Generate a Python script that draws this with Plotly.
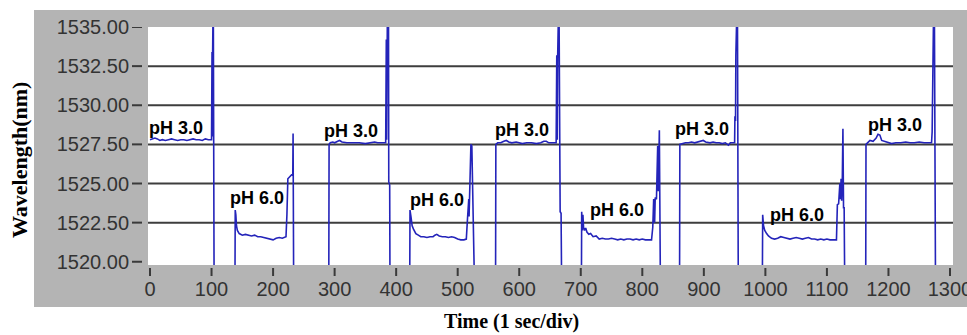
import plotly.graph_objects as go

# ---------------- data ----------------
time = [
    0, 4, 8, 12, 16, 20, 25, 30, 35, 40, 45, 50, 55, 60, 65, 70, 75, 80, 85, 90, 95, 100,
    100.8, 101.3, 101.8, 102.8, 104.2,
    138, 138.5, 139.5, 140.5, 142, 145, 150, 155, 160, 165, 170, 175, 180, 185, 190, 195,
    200, 205, 210, 215, 221, 222.5, 224, 231, 231.5, 232, 232.5, 233.5,
    290.5, 291, 293, 297, 300, 305, 308, 312, 320, 330, 340, 350, 360, 365, 370, 378, 383,
    384, 384.5, 385, 386, 387.5, 388, 389.5, 390,
    422, 422.5, 424, 426, 428, 432, 436, 440, 445, 450, 455, 460, 463, 466, 470, 475, 480,
    485, 490, 495, 500, 505, 510, 514, 516, 518, 518.5, 519.5, 521.5, 523, 525.5, 527.5,
    561.5, 562, 565, 570, 575, 579, 583, 588, 595, 600, 605, 612, 620, 628, 635, 640, 644,
    648, 655, 660, 661, 661.8, 662.5, 664.5, 666.5, 668, 669,
    701, 701.5, 702.5, 703.5, 704.5, 706, 708, 710, 713, 716, 720, 725, 730, 735, 740, 745,
    750, 755, 760, 765, 770, 775, 780, 785, 790, 795, 800, 805, 810, 815, 817, 818.5, 820,
    821, 823, 825, 826, 827, 827.7, 829.5,
    860.5, 861, 865, 870, 875, 880, 885, 890, 895, 899, 903, 910, 915, 920, 925, 930, 935,
    940, 943, 948, 950, 950.5, 951, 951.5, 952, 954.5, 956,
    995, 995.6, 997, 999, 1002, 1005, 1010, 1015, 1020, 1025, 1030, 1035, 1040, 1045, 1050,
    1055, 1060, 1065, 1070, 1075, 1080, 1085, 1090, 1095, 1100, 1105, 1110, 1115.5, 1117,
    1119, 1121, 1122, 1123, 1124, 1125, 1126, 1127, 1128, 1129,
    1163, 1163.5, 1166, 1170, 1175, 1180, 1183, 1186, 1189, 1193, 1198, 1205, 1212, 1220,
    1228, 1235, 1242, 1250, 1258, 1265, 1270, 1271, 1272, 1273, 1274.5, 1276.5,
]
wavelength = [
    1527.8, 1527.85, 1527.9, 1527.85, 1527.75, 1527.8, 1527.75, 1527.8, 1527.85, 1527.8,
    1527.75, 1527.8, 1527.8, 1527.75, 1527.8, 1527.85, 1527.8, 1527.8, 1527.75, 1527.85,
    1527.8, 1527.8,
    1533.4, 1528.0, 1533.4, 1537.5, 1518.0,
    1518.0, 1523.3, 1523.0, 1522.3, 1522.0, 1521.8, 1521.7, 1521.75, 1521.7, 1521.65,
    1521.7, 1521.6, 1521.6, 1521.55, 1521.5, 1521.45,
    1521.4, 1521.5, 1521.55, 1521.5, 1521.6, 1523.0, 1525.3, 1525.6, 1527.5, 1525.5, 1528.2, 1518.0,
    1518.0, 1527.5, 1527.6, 1527.65, 1527.6, 1527.7, 1527.75, 1527.65, 1527.6, 1527.6,
    1527.6, 1527.55, 1527.6, 1527.65, 1527.6, 1527.6, 1527.6,
    1534.2, 1527.8, 1534.2, 1537.5, 1537.5, 1525.1, 1524.9, 1518.0,
    1518.0, 1523.3, 1522.9, 1522.3, 1522.1, 1521.8, 1521.7, 1521.6, 1521.6, 1521.55, 1521.6,
    1521.6, 1521.7, 1521.75, 1521.65, 1521.6, 1521.6,
    1521.55, 1521.6, 1521.55, 1521.45, 1521.4, 1521.4, 1521.45, 1522.8, 1524.0, 1522.9,
    1524.0, 1527.5, 1527.4, 1520.9, 1518.0,
    1518.0, 1527.5, 1527.6, 1527.6, 1527.7, 1527.75, 1527.65, 1527.6, 1527.65, 1527.6,
    1527.55, 1527.6, 1527.6, 1527.55, 1527.6, 1527.7, 1527.7,
    1527.6, 1527.6, 1527.6, 1533.2, 1527.8, 1533.2, 1537.5, 1523.2, 1523.1, 1518.0,
    1518.0, 1523.2, 1522.0, 1523.0, 1522.2, 1522.0, 1522.15, 1521.9, 1521.75, 1521.8,
    1521.6, 1521.65, 1521.45, 1521.5, 1521.45, 1521.45,
    1521.5, 1521.45, 1521.4, 1521.45, 1521.4, 1521.45, 1521.45, 1521.4, 1521.45, 1521.4,
    1521.45, 1521.4, 1521.4, 1521.4, 1522.2, 1524.0, 1522.5,
    1524.1, 1524.0, 1527.4, 1524.5, 1527.5, 1528.4, 1518.0,
    1518.0, 1527.5, 1527.55, 1527.6, 1527.6, 1527.65, 1527.6, 1527.65, 1527.7, 1527.75,
    1527.65, 1527.6, 1527.65, 1527.6, 1527.6, 1527.55, 1527.6,
    1527.45, 1527.6, 1527.6, 1527.6, 1529.3, 1533.2, 1529.0, 1533.2, 1537.5, 1518.0,
    1518.0, 1523.0, 1522.3, 1522.0, 1521.8, 1521.65, 1521.5, 1521.45, 1521.5, 1521.6,
    1521.55, 1521.5, 1521.45, 1521.5, 1521.55,
    1521.5, 1521.45, 1521.5, 1521.55, 1521.45, 1521.45, 1521.4, 1521.45, 1521.4, 1521.45,
    1521.4, 1521.4, 1521.4, 1523.65,
    1523.7, 1525.0, 1524.0, 1525.3, 1523.9, 1525.3, 1528.5, 1523.4, 1523.5, 1518.0,
    1518.0, 1527.5, 1527.6, 1527.75, 1527.7, 1527.9, 1528.15, 1528.1, 1527.75, 1527.7,
    1527.6, 1527.55, 1527.6, 1527.6,
    1527.65, 1527.6, 1527.6, 1527.65, 1527.6, 1527.6, 1527.6, 1528.3, 1534.8, 1534.9, 1537.5, 1518.0,
]

label_texts = ["pH 3.0", "pH 6.0", "pH 3.0", "pH 6.0", "pH 3.0",
               "pH 6.0", "pH 3.0", "pH 6.0", "pH 3.0"]
label_x = [43, 174, 326, 467, 604, 759, 897, 1051, 1210]
label_y = [1528.56, 1524.06, 1528.37, 1523.96, 1528.43, 1523.28, 1528.47, 1523.0, 1528.72]

y_ticks = [1520.0, 1522.5, 1525.0, 1527.5, 1530.0, 1532.5, 1535.0]
y_tick_text = ["1520.00", "1522.50", "1525.00", "1527.50", "1530.00", "1532.50", "1535.00"]
grid_levels = [1522.5, 1525.0, 1527.5, 1530.0, 1532.5]
x_ticks = [0, 100, 200, 300, 400, 500, 600, 700, 800, 900, 1000, 1100, 1200, 1300]

x_title = "Time (1 sec/div)"
y_title = "Wavelength(nm)"

# ---------------- figure ----------------
W, H = 967, 335
ML, MR, MT, MB = 148, 14, 27, 70
PW, PH = W - ML - MR, H - MT - MB


def px_to_paper_x(px):
    return (px - ML) / PW


def py_to_paper_y(py):
    return (H - MB - py) / PH


fig = go.Figure()
fig.add_trace(go.Scatter(
    x=time, y=wavelength, mode="lines",
    line=dict(color="rgb(36,36,186)", width=1.6),
    hoverinfo="skip", showlegend=False,
))

shapes = [
    # grey instrument panel
    dict(type="rect", xref="paper", yref="paper", layer="below",
         x0=px_to_paper_x(34), x1=px_to_paper_x(975),
         y0=py_to_paper_y(307), y1=py_to_paper_y(10),
         fillcolor="#b4b4b4", line=dict(width=0)),
    # white plotting area
    dict(type="rect", xref="paper", yref="paper", layer="below",
         x0=0, x1=1, y0=0, y1=1, fillcolor="white", line=dict(width=0)),
]
for g in grid_levels:
    shapes.append(dict(type="line", xref="paper", yref="y", layer="below",
                       x0=0, x1=1, y0=g, y1=g,
                       line=dict(color="#3e3e3e", width=2)))
# detached tick dashes, as drawn by the instrument software
for t in y_ticks:
    shapes.append(dict(type="line", xref="paper", yref="y", layer="above",
                       x0=px_to_paper_x(132), x1=px_to_paper_x(142), y0=t, y1=t,
                       line=dict(color="#3a3a3a", width=2)))
for t in x_ticks:
    shapes.append(dict(type="line", xref="x", yref="paper", layer="above",
                       x0=t, x1=t, y0=py_to_paper_y(268), y1=py_to_paper_y(276),
                       line=dict(color="#3a3a3a", width=2)))

annotations = []
for t, lx, ly in zip(label_texts, label_x, label_y):
    annotations.append(dict(x=lx, y=ly, xref="x", yref="y", text="<b>" + t + "</b>",
                            showarrow=False, xanchor="center", yanchor="middle",
                            font=dict(family="Liberation Sans, Arial, sans-serif",
                                      size=18, color="black")))
annotations.append(dict(x=px_to_paper_x(511), y=py_to_paper_y(321), xref="paper", yref="paper",
                        text="<b>" + x_title + "</b>", showarrow=False,
                        xanchor="center", yanchor="middle",
                        font=dict(family="Liberation Serif, Times New Roman, serif",
                                  size=20, color="black")))
annotations.append(dict(x=px_to_paper_x(19), y=py_to_paper_y(160), xref="paper", yref="paper",
                        text="<b>" + y_title + "</b>", showarrow=False, textangle=-90,
                        xanchor="center", yanchor="middle",
                        font=dict(family="Liberation Serif, Times New Roman, serif",
                                  size=22, color="black")))

tick_font = dict(family="Liberation Sans, Arial, sans-serif", size=20, color="#333333")

fig.update_layout(
    width=W, height=H,
    margin=dict(l=ML, r=MR, t=MT, b=MB, pad=0, autoexpand=False),
    paper_bgcolor="white", plot_bgcolor="white",
    shapes=shapes, annotations=annotations,
    xaxis=dict(range=[-3.25, -3.25 + 1.625 * PW], tickmode="array", tickvals=x_ticks,
               ticktext=[str(v) for v in x_ticks], automargin=False,
               showgrid=False, zeroline=False, showline=False,
               ticks="", ticklabelstandoff=10, ticklabeloverflow="allow",
               tickfont=tick_font),
    yaxis=dict(range=[1535 - PH / 15.65, 1535.0], tickmode="array", tickvals=y_ticks,
               ticktext=y_tick_text, automargin=False,
               showgrid=False, zeroline=False, showline=False,
               ticks="", ticklabelstandoff=18, tickfont=tick_font),
)

fig.write_html("out.html")
